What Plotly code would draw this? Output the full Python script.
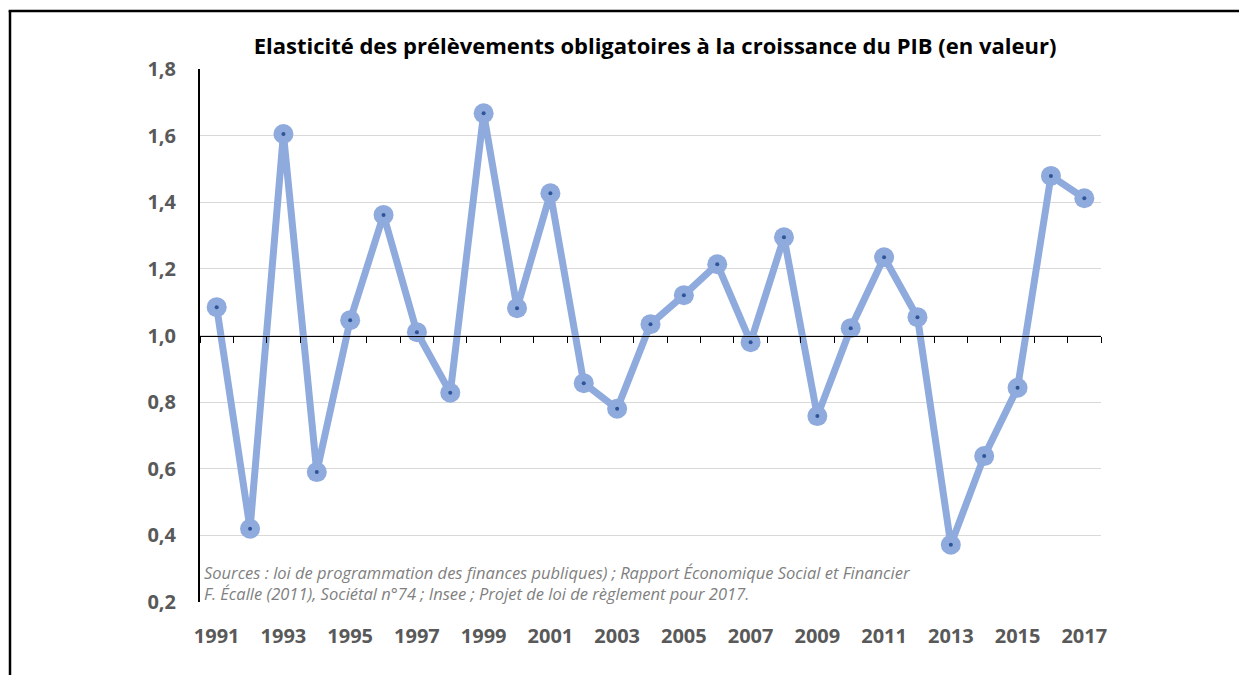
import plotly.graph_objects as go

years = list(range(1991, 2018))
values = [1.085, 0.42, 1.605, 0.59, 1.046, 1.362, 1.01, 0.828, 1.667, 1.082,
          1.427, 0.857, 0.78, 1.034, 1.121, 1.214, 0.98, 1.295, 0.758, 1.022,
          1.235, 1.055, 0.372, 0.638, 0.843, 1.479, 1.412]
x_tick_years = list(range(1991, 2018, 2))
y_ticks = [0.2, 0.4, 0.6, 0.8, 1.0, 1.2, 1.4, 1.6, 1.8]

title_text = "Elasticité des prélèvements obligatoires à la croissance du PIB (en valeur)"
source_text = ("Sources : loi de programmation des finances publiques) ; Rapport Économique Social et Financier<br>"
               "F. Écalle (2011), Sociétal n°74 ; Insee ; Projet de loi de règlement pour 2017.")

W, H = 1239, 675
L, R, T, B = 200, 138, 69, 73
pw = W - L - R
ph = H - T - B

line_col = "#8FAADC"
dot_col = "#2F5597"
lab_col = "#595959"
font_fam = "'Open Sans', Lato, sans-serif"

fig = go.Figure()
fig.add_trace(go.Scatter(
    x=years, y=values, mode="lines+markers",
    line=dict(color=line_col, width=7),
    marker=dict(color=line_col, size=20),
    showlegend=False, hoverinfo="x+y"))
fig.add_trace(go.Scatter(
    x=years, y=values, mode="markers",
    marker=dict(color=dot_col, size=4),
    showlegend=False, hoverinfo="skip"))
# helper trace to activate the crossing axis at 1.0
fig.add_trace(go.Scatter(
    x=[years[0]], y=[values[0]], xaxis="x2", mode="markers",
    marker=dict(opacity=0), showlegend=False, hoverinfo="skip"))

xr = [years[0] - 0.5, years[-1] + 0.5]
ymin, ymax = y_ticks[0], y_ticks[-1]
cross = 1.0

bx = (10 - L) / pw
by = (H - B - 11) / ph
fig.update_layout(
    width=W, height=H,
    margin=dict(l=L, r=R, t=T, b=B),
    paper_bgcolor="white", plot_bgcolor="white",
    separators=", ",
    font=dict(family=font_fam, color=lab_col),
    title=dict(text=f"<b>{title_text}</b>", x=655 / W, xanchor="center",
               y=1 - 46 / H, yanchor="middle",
               font=dict(size=22, color="#000000", family=font_fam)),
    xaxis=dict(range=xr, tickvals=x_tick_years, ticktext=[f"<b>{y}</b>" for y in x_tick_years],
               showgrid=False, zeroline=False, showline=False, ticks="",
               tickfont=dict(size=20, color=lab_col), ticklabelstandoff=20),
    xaxis2=dict(range=xr, overlaying="x", anchor="free",
                position=(cross - ymin) / (ymax - ymin),
                tickmode="linear", tick0=xr[0], dtick=1,
                showticklabels=False, ticks="outside", ticklen=6, tickwidth=1,
                tickcolor="#000000", showline=True, linecolor="#000000", linewidth=1,
                showgrid=False, zeroline=False),
    yaxis=dict(range=[ymin, ymax], tickvals=y_ticks,
               ticktext=[f"<b>{v:.1f}</b>".replace(".", ",") for v in y_ticks],
               showgrid=True, gridcolor="#D9D9D9", gridwidth=1,
               zeroline=False, showline=True, linecolor="#000000", linewidth=2,
               ticks="", tickfont=dict(size=20, color=lab_col), ticklabelstandoff=18),
    annotations=[dict(
        text=f"<i>{source_text}</i>", xref="paper", yref="paper",
        x=2 / pw, y=(602 - 583) / ph, xanchor="left", yanchor="middle",
        align="left", showarrow=False,
        font=dict(size=16.5, color="#7F7F7F", family=font_fam))],
    shapes=[
        dict(type="line", xref="paper", yref="paper", x0=bx, x1=bx,
             y0=-0.3, y1=by, line=dict(color="#000000", width=2.5), layer="above"),
        dict(type="line", xref="paper", yref="paper", x0=bx - 0.0015, x1=1.3,
             y0=by, y1=by, line=dict(color="#000000", width=2.5), layer="above"),
    ],
)

fig.write_html("out.html", config={"displayModeBar": False},
               post_script="document.body.style.margin='0';document.body.style.overflow='hidden';")
